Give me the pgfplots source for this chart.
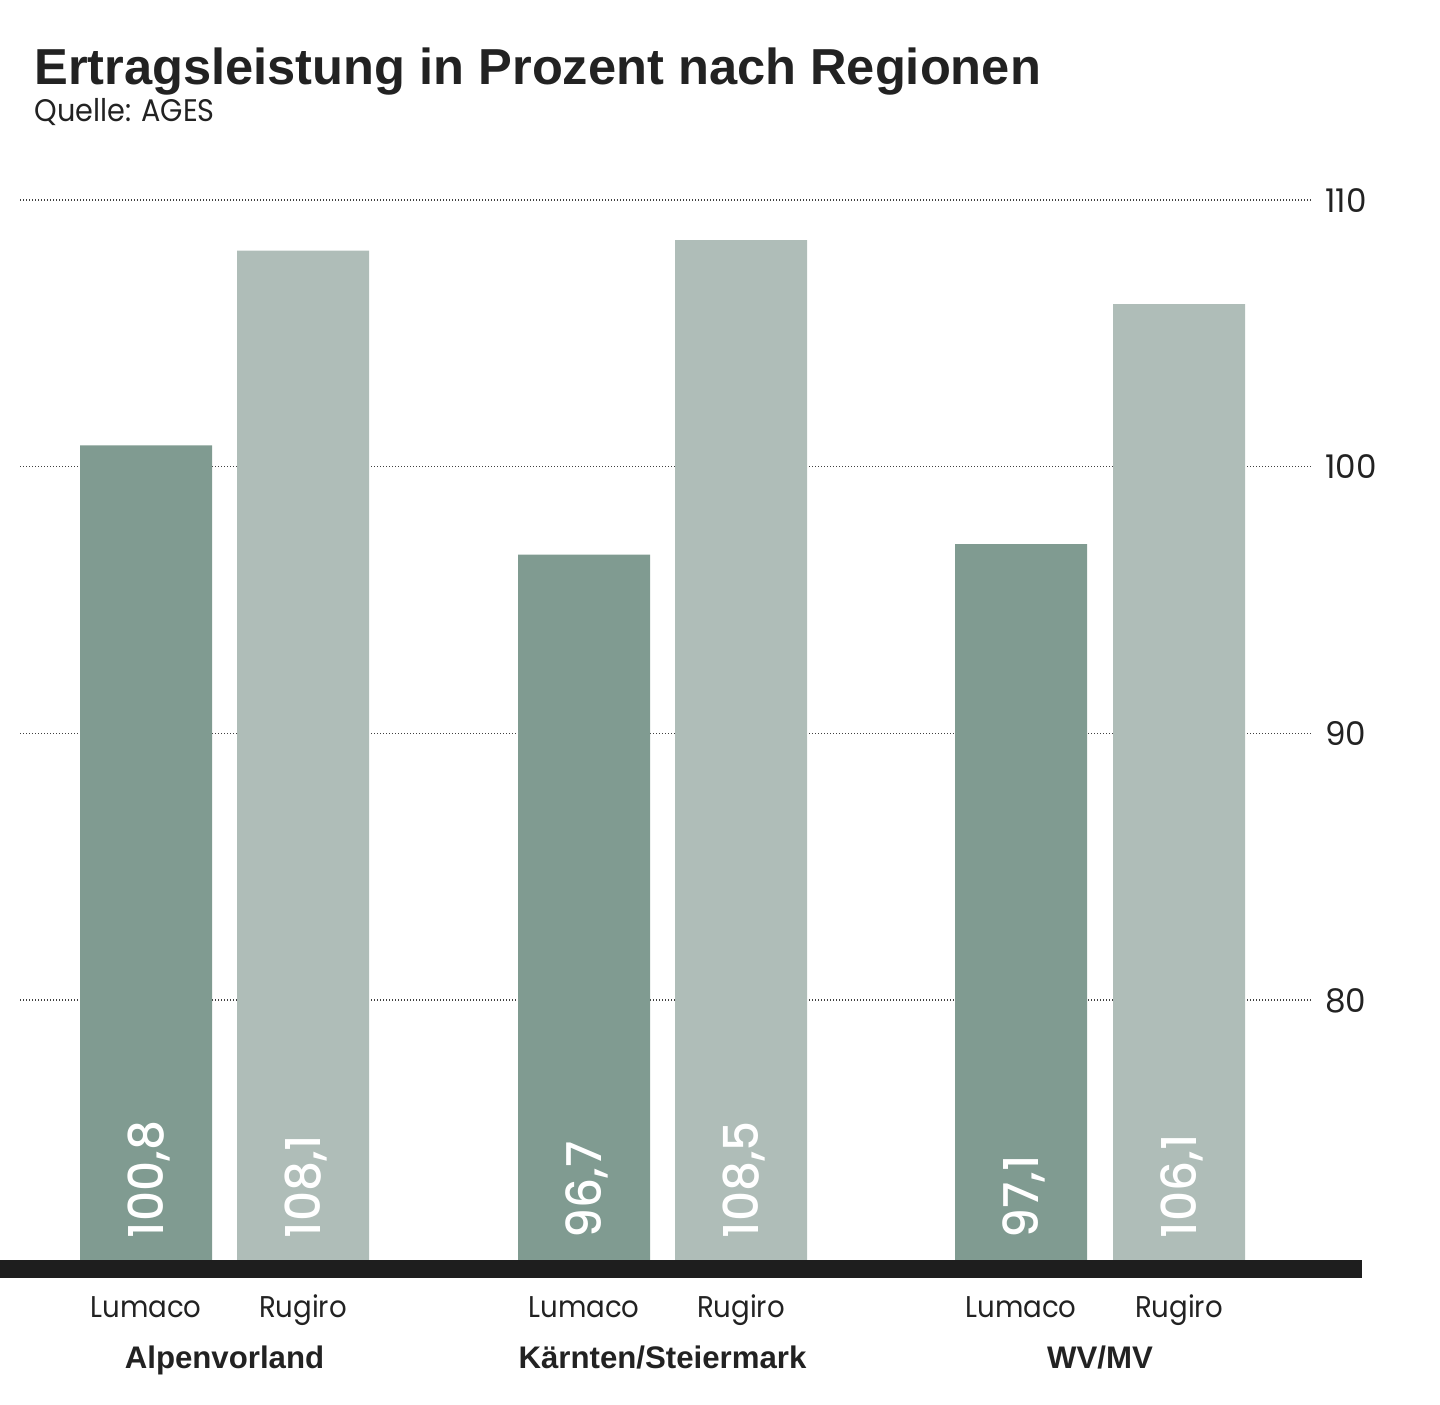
\documentclass[border=0pt]{standalone}
\usepackage{pgfplots}
\pgfplotsset{compat=1.18}
\usepackage{fontspec}
\setmainfont{Poppins}[FakeStretch=0.92]
\newfontfamily\titlefont{Liberation Sans}
\newfontfamily\tickfont{Poppins}
\newfontfamily\valfont{Poppins Medium}[FakeStretch=0.98]
\definecolor{cdark}{HTML}{809B91}
\definecolor{clight}{HTML}{AFBDB8}
\definecolor{cline}{HTML}{1E1E1E}
\definecolor{ctext}{HTML}{222222}
\begin{document}
\begin{tikzpicture}
\path[use as bounding box] (0,0) rectangle (720pt,702pt);
\begin{axis}[
  at={(10pt,68.65pt)}, anchor=south west,
  scale only axis, width=646pt, height=533.33pt,
  xmin=20, xmax=1312, ymin=70, ymax=110,
  clip=false,
  axis line style={draw=none},
  major tick length=0pt, tick style={draw=none},
  ytick={80,90,100,110},
  yticklabel pos=right,
  yticklabel={\makebox[0pt][l]{\pgfmathprintnumber{\tick}}},
  ymajorgrids,
  grid style={draw=black!75, line width=0.7pt, dash pattern=on 0.7pt off 0.8pt},
  yticklabel style={anchor=west, inner sep=0pt, text depth=0pt, xshift=6pt, font=\tickfont\fontsize{16.3}{17}\selectfont, text=ctext},
  xtick={146,303,584,741,1021,1179},
  xticklabels={Lumaco,Rugiro,Lumaco,Rugiro,Lumaco,Rugiro},
  xticklabel style={anchor=base, inner sep=0pt, yshift=-25.6pt, font=\fontsize{15}{16}\selectfont, text=ctext},
  /pgf/number format/assume math mode=true,
  ybar, bar width=132, bar shift=0pt,
  visualization depends on={y \as \rawy},
  nodes near coords={\pgfmathprintnumber[fixed,fixed zerofill,precision=1,use comma,assume math mode=true]{\pgfplotspointmeta}},
  nodes near coords style={yshift={-(\rawy-70)*13.3333pt+14pt}, rotate=90, anchor=west, inner sep=0pt, text depth=0pt, text=white, font=\valfont\fontsize{24}{24}\selectfont},
]
\addplot[fill=cdark, draw=none] coordinates {(146,100.8) (584,96.7) (1021,97.1)};
\addplot[fill=clight, draw=none] coordinates {(303,108.1) (741,108.5) (1179,106.1)};
\node[anchor=base, inner sep=0pt, yshift=-50.65pt, text=ctext, font=\titlefont\bfseries\fontsize{15.6}{16}\selectfont] at (axis cs:224.5,70) {Alpenvorland};
\node[anchor=base, inner sep=0pt, yshift=-50.65pt, text=ctext, font=\titlefont\bfseries\fontsize{15.6}{16}\selectfont] at (axis cs:662.5,70) {Kärnten/Steiermark};
\node[anchor=base, inner sep=0pt, yshift=-50.65pt, text=ctext, font=\titlefont\bfseries\fontsize{15.6}{16}\selectfont] at (axis cs:1100,70) {WV/MV};
\end{axis}
\fill[cline] (0,63pt) rectangle (681pt,72pt);
\node[anchor=base west, inner sep=0pt, text=ctext, font=\titlefont\bfseries\fontsize{25.3}{25}\selectfont] at (17pt,659.5pt) {Ertragsleistung in Prozent nach Regionen};
\node[anchor=base west, inner sep=0pt, text=ctext, font=\fontsize{15.6}{15}\selectfont] at (17pt,641.2pt) {Quelle: AGES};
\end{tikzpicture}
\end{document}
